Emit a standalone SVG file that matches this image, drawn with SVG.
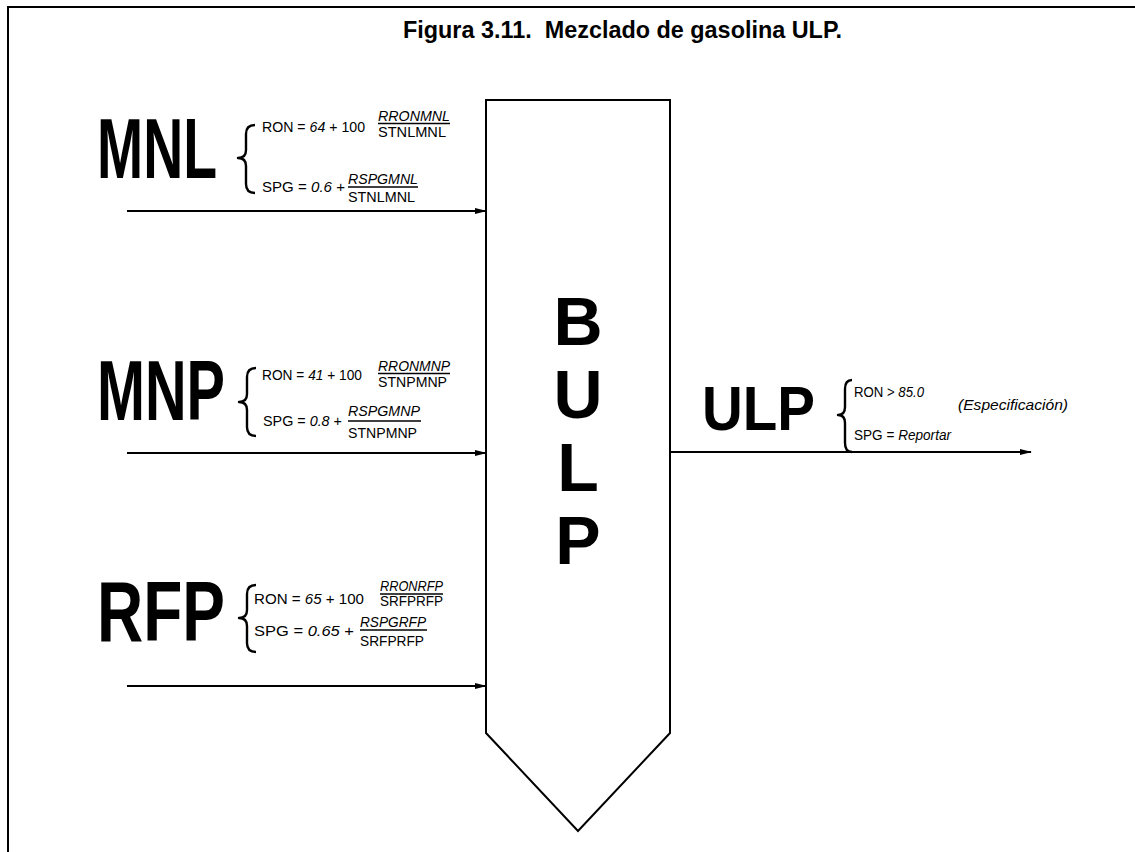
<svg xmlns="http://www.w3.org/2000/svg" width="1135" height="852" viewBox="0 0 1135 852">
  <style>
    .frame { fill: none; stroke: #000; stroke-width: 2; }
    .big { font-family: "Liberation Sans", Arial, sans-serif; font-weight: bold; fill: #000; }
    .f { font-family: "Liberation Sans", Arial, sans-serif; font-size: 15px; fill: #000; }
    .it { font-style: italic; }
    .bar { stroke: #000; stroke-width: 1.3; }
    .brace { fill: none; stroke: #000; stroke-width: 2.4; stroke-linejoin: round; }
    .flow { stroke: #000; stroke-width: 2; fill: none; marker-end: url(#arrow); }
    .unit { fill: #fff; stroke: #000; stroke-width: 2; }
  </style>
  <defs>
    <marker id="arrow" viewBox="0 0 12 8" refX="11" refY="4" markerWidth="12" markerHeight="8" markerUnits="userSpaceOnUse" orient="auto">
      <path d="M0,1 L12,4 L0,7 Z" fill="#000"/>
    </marker>
  </defs>

  <rect width="1135" height="852" fill="#fff"/>

  <!-- page frame -->
  <path class="frame" d="M8,852 V7 H1135"/>

  <text class="big" x="403" y="38" font-size="24" textLength="439" lengthAdjust="spacingAndGlyphs" xml:space="preserve">Figura 3.11.  Mezclado de gasolina ULP.</text>

  <!-- blending unit -->
  <g id="bulp">
    <polygon class="unit" points="486,100 670,100 670,733 578,831 486,733"/>
    <text class="big" x="578" y="345" font-size="68" text-anchor="middle">B</text>
    <text class="big" x="578" y="418" font-size="68" text-anchor="middle">U</text>
    <text class="big" x="578" y="491" font-size="68" text-anchor="middle">L</text>
    <text class="big" x="578" y="564" font-size="68" text-anchor="middle">P</text>
  </g>

  <!-- MNL feed -->
  <g id="mnl">
    <text class="big" x="97" y="178" font-size="85" textLength="120" lengthAdjust="spacingAndGlyphs">MNL</text>
    <path class="brace" d="M255,125 Q246,125 246,134 V150 Q246,158 238,158 Q246,158 246,166 V184 Q246,193 255,193"/>
    <text class="f" x="262" y="132" textLength="103" lengthAdjust="spacingAndGlyphs">RON = <tspan class="it">64</tspan> + 100</text>
    <text class="f it" x="378" y="121" textLength="72" lengthAdjust="spacingAndGlyphs">RRONMNL</text>
    <line class="bar" x1="378" y1="123.5" x2="450" y2="123.5"/>
    <text class="f" x="378" y="137" textLength="68" lengthAdjust="spacingAndGlyphs">STNLMNL</text>
    <text class="f" x="262" y="192" textLength="83" lengthAdjust="spacingAndGlyphs">SPG = <tspan class="it">0.6</tspan> +</text>
    <text class="f it" x="348" y="184" textLength="70" lengthAdjust="spacingAndGlyphs">RSPGMNL</text>
    <line class="bar" x1="348" y1="187" x2="418" y2="187"/>
    <text class="f" x="348" y="202" textLength="67" lengthAdjust="spacingAndGlyphs">STNLMNL</text>
  </g>

  <!-- MNP feed -->
  <g id="mnp">
    <text class="big" x="97" y="420" font-size="85" textLength="128" lengthAdjust="spacingAndGlyphs">MNP</text>
    <path class="brace" d="M256,368 Q247,368 247,377 V394 Q247,402 239,402 Q247,402 247,410 V427 Q247,436 256,436"/>
    <text class="f" x="262" y="380" textLength="100" lengthAdjust="spacingAndGlyphs">RON = <tspan class="it">41</tspan> + 100</text>
    <text class="f it" x="378" y="371" textLength="72" lengthAdjust="spacingAndGlyphs">RRONMNP</text>
    <line class="bar" x1="378" y1="373.5" x2="450" y2="373.5"/>
    <text class="f" x="378" y="387" textLength="69" lengthAdjust="spacingAndGlyphs">STNPMNP</text>
    <text class="f" x="263" y="426" textLength="79" lengthAdjust="spacingAndGlyphs">SPG = <tspan class="it">0.8</tspan> +</text>
    <text class="f it" x="348" y="416" textLength="72" lengthAdjust="spacingAndGlyphs">RSPGMNP</text>
    <line class="bar" x1="348" y1="421" x2="421" y2="421"/>
    <text class="f" x="348" y="438" textLength="69" lengthAdjust="spacingAndGlyphs">STNPMNP</text>
  </g>

  <!-- RFP feed -->
  <g id="rfp">
    <text class="big" x="97" y="641" font-size="85" textLength="128" lengthAdjust="spacingAndGlyphs">RFP</text>
    <path class="brace" d="M256,585 Q247,585 247,594 V610 Q247,618 239,618 Q247,618 247,626 V643 Q247,652 256,652"/>
    <text class="f" x="254" y="604" textLength="110" lengthAdjust="spacingAndGlyphs">RON = <tspan class="it">65</tspan> + 100</text>
    <text class="f it" x="380" y="591" textLength="63" lengthAdjust="spacingAndGlyphs">RRONRFP</text>
    <line class="bar" x1="380" y1="594" x2="443" y2="594"/>
    <text class="f" x="380" y="606" textLength="63" lengthAdjust="spacingAndGlyphs">SRFPRFP</text>
    <text class="f" x="254" y="636" textLength="100" lengthAdjust="spacingAndGlyphs">SPG = <tspan class="it">0.65</tspan> +</text>
    <text class="f it" x="360" y="627" textLength="66" lengthAdjust="spacingAndGlyphs">RSPGRFP</text>
    <line class="bar" x1="360" y1="630" x2="427" y2="630"/>
    <text class="f" x="360" y="646" textLength="64" lengthAdjust="spacingAndGlyphs">SRFPRFP</text>
  </g>

  <!-- ULP product -->
  <g id="ulp">
    <text class="big" x="702" y="430" font-size="63" textLength="113" lengthAdjust="spacingAndGlyphs">ULP</text>
    <path class="brace" d="M852,380 Q845,380 845,389 V407 Q845,415 838,415 Q845,415 845,423 V443 Q845,452 852,452"/>
    <text class="f" x="854" y="397" textLength="70" lengthAdjust="spacingAndGlyphs">RON &gt; <tspan class="it">85.0</tspan></text>
    <text class="f it" x="958" y="410" font-size="13" textLength="110" lengthAdjust="spacingAndGlyphs">(Especificación)</text>
    <text class="f" x="854" y="440" textLength="97" lengthAdjust="spacingAndGlyphs">SPG = <tspan class="it">Reportar</tspan></text>
  </g>

  <!-- stream connectors -->
  <g id="connectors">
    <line class="flow" x1="127" y1="211" x2="486" y2="211"/>
    <line class="flow" x1="127" y1="453" x2="486" y2="453"/>
    <line class="flow" x1="127" y1="686" x2="486" y2="686"/>
    <line class="flow" x1="670" y1="452" x2="1031" y2="452"/>
  </g>
</svg>
